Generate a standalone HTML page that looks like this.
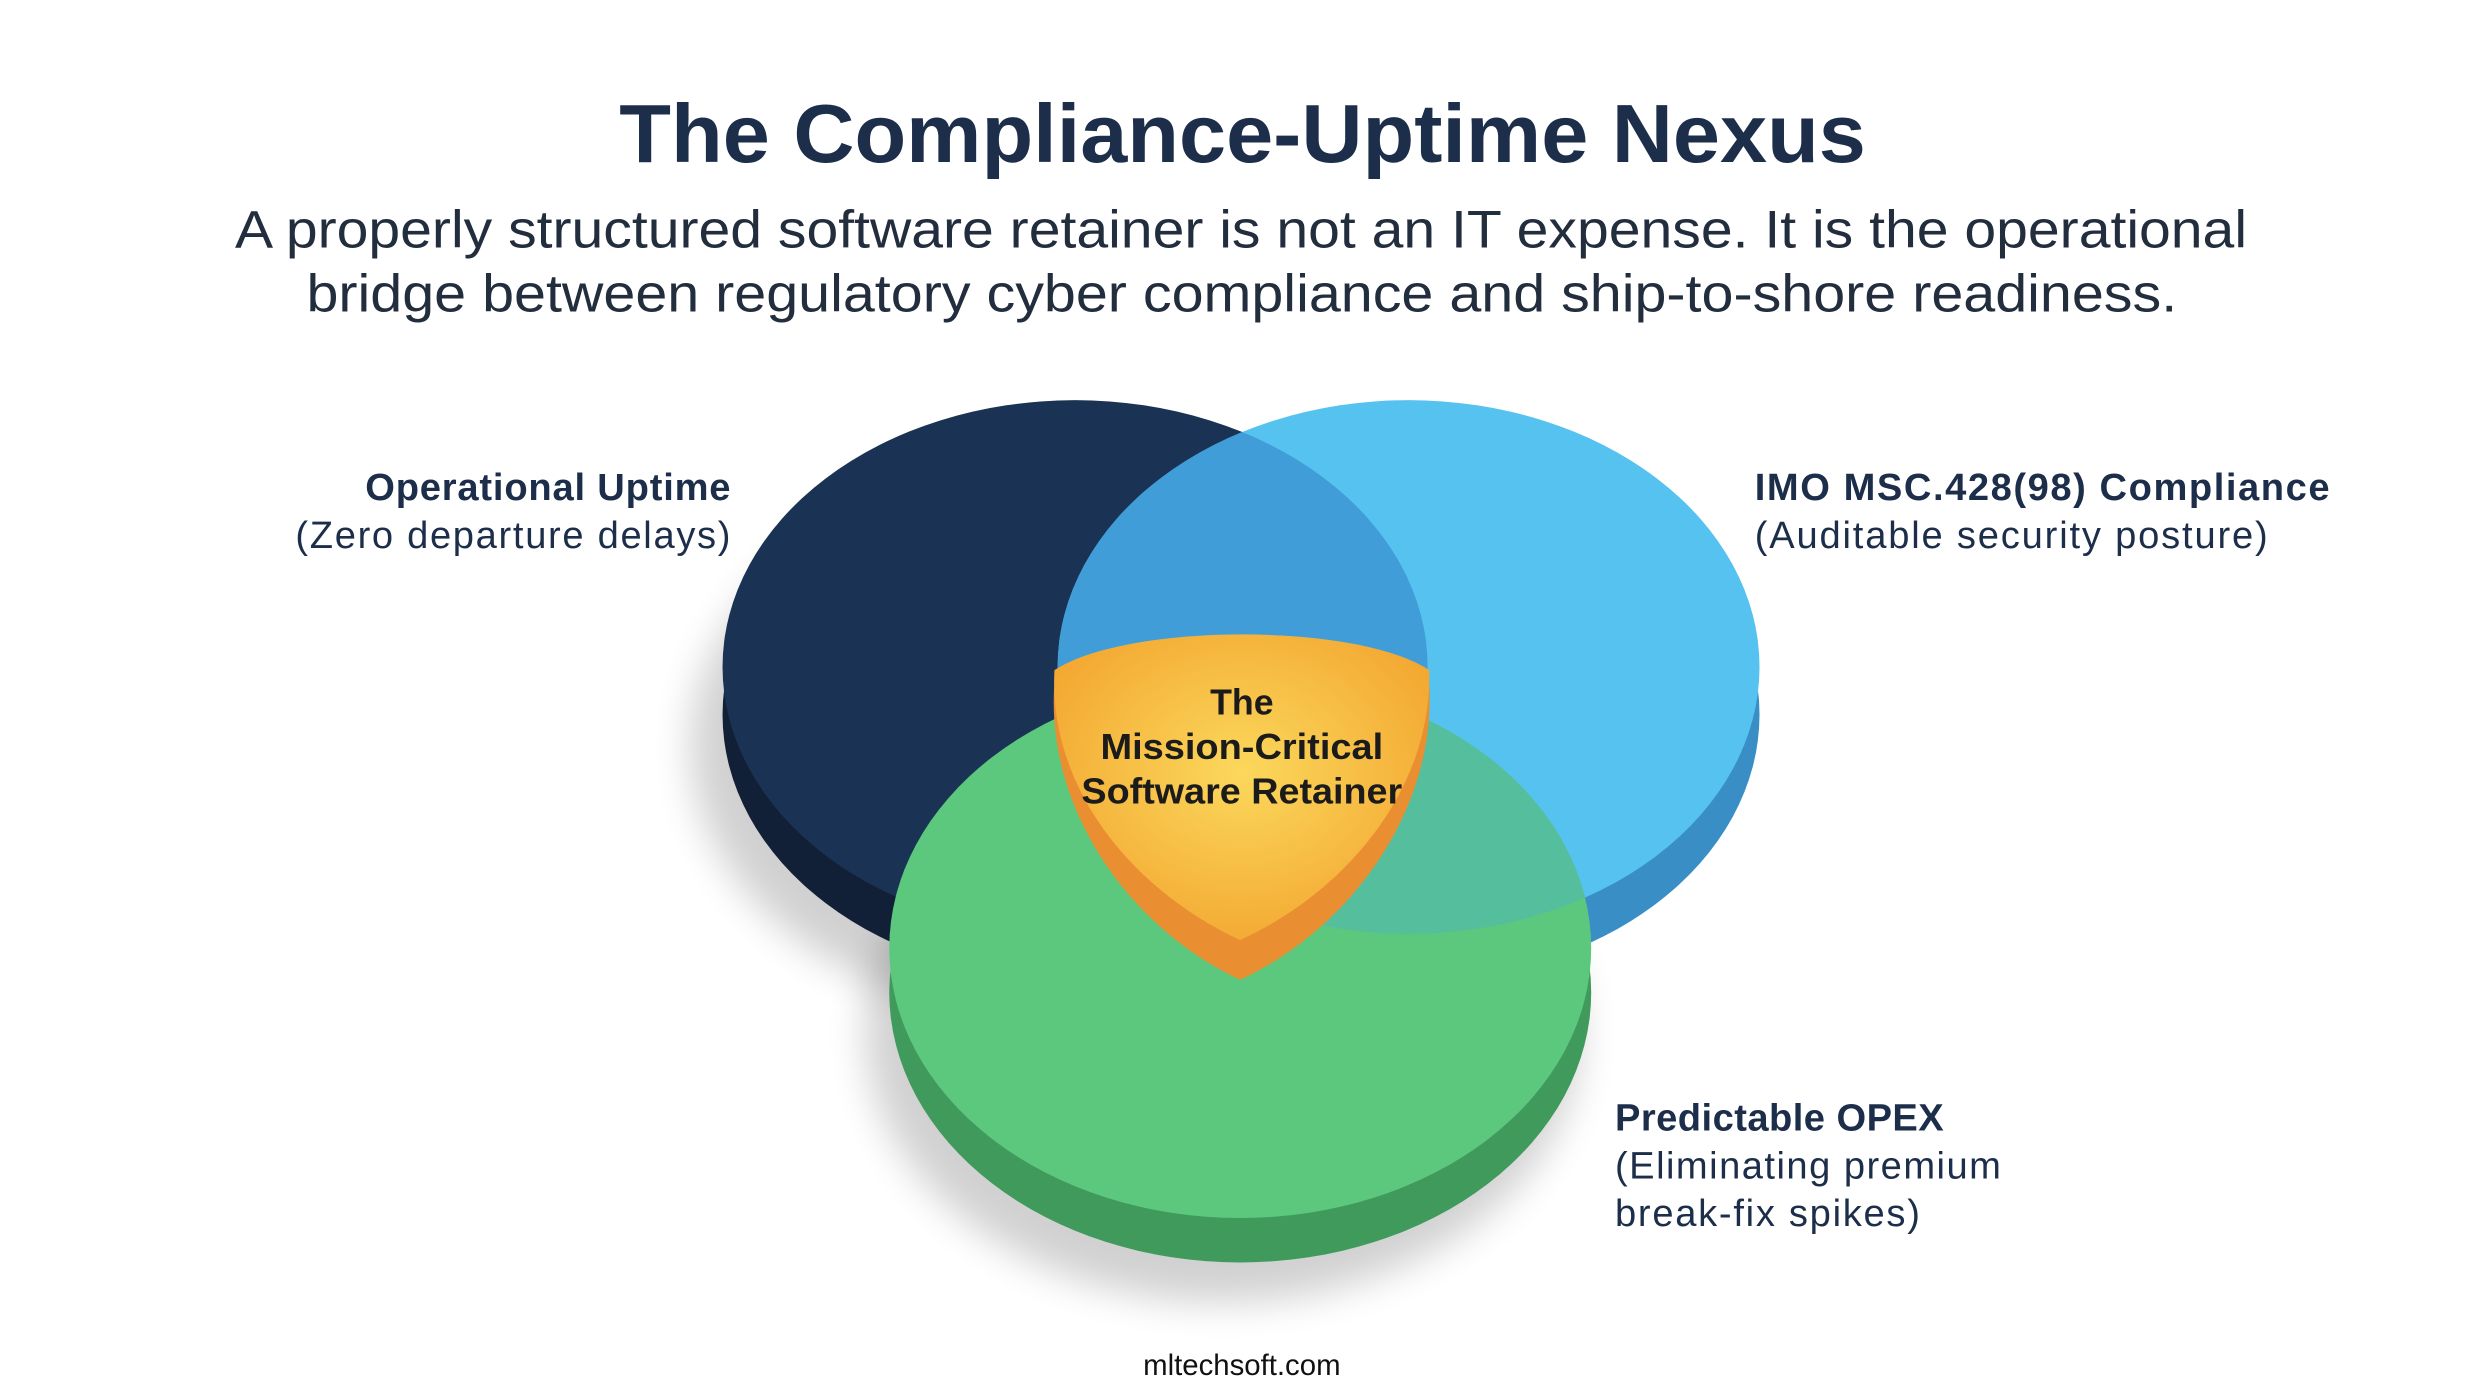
<!DOCTYPE html>
<html><head><meta charset="utf-8"><style>
html,body{margin:0;padding:0;background:#fff;}
svg{display:block;}
</style></head><body>
<svg width="2490" height="1400" viewBox="0 0 1568 881.6" xmlns="http://www.w3.org/2000/svg" font-family="Liberation Sans, sans-serif">
<defs>
<filter id="blur" x="-30%" y="-30%" width="160%" height="160%"><feGaussianBlur stdDeviation="12"/></filter>
<radialGradient id="og" cx="0.5" cy="0.45" r="0.6"><stop offset="0" stop-color="#fbd85c"/><stop offset="1" stop-color="#f3a731"/></radialGradient>
<clipPath id="cb"><ellipse cx="887" cy="420" rx="221" ry="168"/></clipPath>
<clipPath id="cn"><ellipse cx="677" cy="420" rx="222" ry="168"/></clipPath>
</defs>
<rect width="1568" height="882" fill="#fff"/>
<text x="390" y="102" textLength="785" lengthAdjust="spacingAndGlyphs" font-size="52" font-weight="bold" fill="#1c2e4a">The Compliance-Uptime Nexus</text>
<text x="148" y="156" textLength="1267" lengthAdjust="spacingAndGlyphs" font-size="33" fill="#222d3d">A properly structured software retainer is not an IT expense. It is the operational</text>
<text x="193" y="196" textLength="1178" lengthAdjust="spacingAndGlyphs" font-size="33" fill="#222d3d">bridge between regulatory cyber compliance and ship-to-shore readiness.</text>

<ellipse cx="660" cy="470" rx="225" ry="170" fill="#000" opacity="0.18" filter="url(#blur)"/>
<ellipse cx="770" cy="650" rx="225" ry="170" fill="#000" opacity="0.18" filter="url(#blur)"/>

<ellipse cx="677" cy="450" rx="222" ry="168" fill="#122037"/>
<ellipse cx="677" cy="420" rx="222" ry="168" fill="#1a3253"/>
<ellipse cx="887" cy="450" rx="221" ry="168" fill="#3a8ec6"/>
<ellipse cx="887" cy="420" rx="221" ry="168" fill="#56c2f0"/>
<ellipse cx="677" cy="420" rx="222" ry="168" fill="#409dd8" clip-path="url(#cb)"/>
<ellipse cx="781" cy="625" rx="221" ry="170" fill="#3f9a5c"/>
<ellipse cx="781" cy="597" rx="221" ry="170" fill="#5bc87e"/>
<ellipse cx="781" cy="597" rx="221" ry="170" fill="#55be9c" clip-path="url(#cb)"/>
<g clip-path="url(#cb)"><ellipse cx="781" cy="597" rx="221" ry="170" fill="#5bc87e" clip-path="url(#cn)"/></g>

<path d="M664,430 C710,400 855,400 900,430 C905,510 850,585 781,617 C712,585 658,510 664,430 Z" fill="#e98f32"/>
<path d="M664,422 C710,392 855,392 900,422 C902,495 850,560 781,592 C712,560 660,495 664,422 Z" fill="url(#og)"/>
<g font-size="22.5" font-weight="bold" fill="#1b1b1b" text-anchor="middle">
<text x="782" y="450">The</text>
<text x="782" y="478" textLength="178" lengthAdjust="spacingAndGlyphs">Mission-Critical</text>
<text x="782" y="506" textLength="202" lengthAdjust="spacingAndGlyphs">Software Retainer</text>
</g>

<g font-size="24" fill="#1c2e4a" lengthAdjust="spacingAndGlyphs">
<text x="230" y="315" textLength="230" font-weight="bold">Operational Uptime</text>
<text x="186" y="345" textLength="274">(Zero departure delays)</text>
<text x="1105" y="315" textLength="362" font-weight="bold">IMO MSC.428(98) Compliance</text>
<text x="1105" y="345" textLength="323">(Auditable security posture)</text>
<text x="1017" y="712" textLength="207" font-weight="bold">Predictable OPEX</text>
<text x="1017" y="742" textLength="243">(Eliminating premium</text>
<text x="1017" y="772" textLength="192">break-fix spikes)</text>
</g>
<text x="782" y="866" text-anchor="middle" font-size="18.5" fill="#111">mltechsoft.com</text>
</svg>
</body></html>
